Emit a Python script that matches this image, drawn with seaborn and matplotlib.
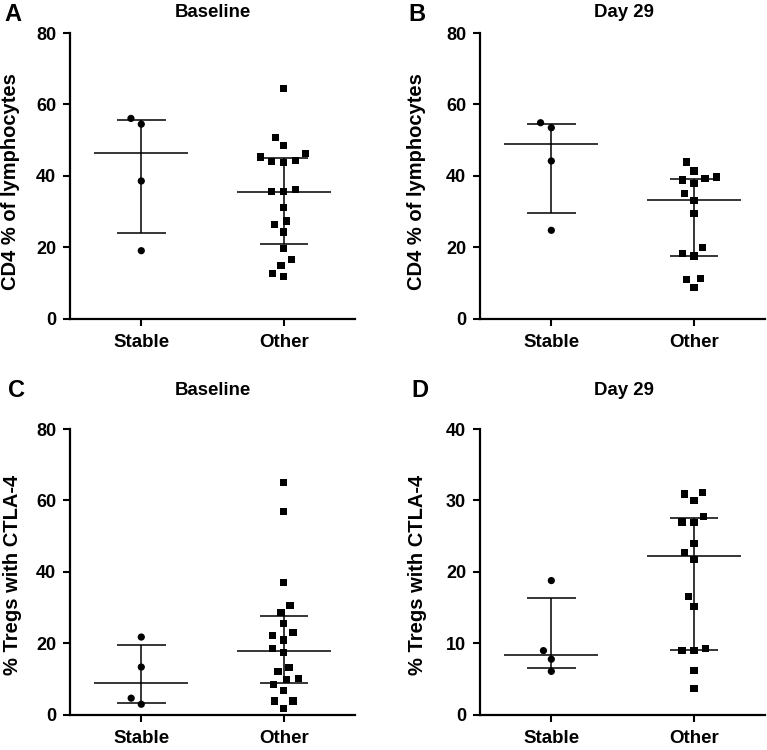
import numpy as np
import pandas as pd
import matplotlib
matplotlib.use("Agg")
import matplotlib.pyplot as plt
import seaborn as sns

groups = ["Stable", "Other"]

# CD4 % of lymphocytes
cd4_base_stable = [54.5, 56.1, 38.6, 19.1]
cd4_base_other = [64.4, 50.7, 48.5, 46.3, 45.3, 44.1, 43.8, 44.4, 36.2, 35.6,
                  35.6, 31.2, 27.4, 26.4, 24.3, 19.7, 16.7, 15.0, 12.8, 11.9]
cd4_d29_stable = [53.5, 54.9, 44.2, 24.8]
cd4_d29_other = [43.9, 41.4, 39.2, 38.0, 38.9, 39.7, 35.2, 33.2, 29.6, 18.4,
                 19.9, 17.6, 11.4, 11.1, 8.7]

# % Tregs with CTLA-4
ctla_base_stable = [21.8, 13.4, 4.7, 3.0]
ctla_base_other = [65.1, 57.0, 37.1, 30.7, 28.6, 25.5, 23.0, 22.2, 21.0, 18.5,
                   17.4, 13.3, 12.1, 9.9, 10.2, 8.5, 6.8, 3.9, 3.9, 1.9]
ctla_d29_stable = [18.8, 9.0, 7.8, 6.1]
ctla_d29_other = [30.9, 31.1, 30.0, 27.8, 26.9, 27.0, 24.0, 22.7, 21.8, 16.6,
                  15.2, 9.3, 9.0, 9.0, 6.2, 3.7]

sns.set_style("ticks")
plt.rcParams["font.family"] = ["Liberation Sans", "DejaVu Sans"]
plt.rcParams["font.weight"] = "bold"
plt.rcParams["text.color"] = "black"
plt.rcParams["axes.labelcolor"] = "black"
plt.rcParams["xtick.color"] = "black"
plt.rcParams["ytick.color"] = "black"

fig = plt.figure(figsize=(7.67, 7.5), dpi=100)


def panel(rect, stable, other, ymax, ystep, ylabel, lab_pos):
    ax = fig.add_axes(rect)
    df = pd.DataFrame({"group": ["Stable"] * len(stable) + ["Other"] * len(other),
                       "value": stable + other})
    for g, m in zip(groups, ["o", "s"]):
        sns.swarmplot(data=df[df["group"] == g], x="group", y="value", order=groups,
                      marker=m, size=5.2, color="black", linewidth=3.0, ax=ax, zorder=3)
    # keep the swarm spacing but hide the marker edges
    for c in ax.collections:
        c.set_edgecolor("none")

    # median with interquartile range
    for i, vals in enumerate([stable, other]):
        q1, med, q3 = np.percentile(vals, [25, 50, 75], method="weibull")
        ax.hlines(med, i - 0.33, i + 0.33, color="black", lw=1.1, zorder=2)
        ax.hlines([q1, q3], i - 0.17, i + 0.17, color="black", lw=1.1, zorder=2)
        ax.vlines(i, q1, q3, color="black", lw=1.1, zorder=2)

    ax.set_xlim(-0.5, 1.5)
    ax.set_ylim(0, ymax)
    ax.set_yticks(np.arange(0, ymax + 1, ystep))
    ax.set_xlabel("")
    ax.set_ylabel(ylabel, fontsize=14.5, fontweight="bold", color="black")
    ax.yaxis.set_label_coords(*lab_pos)
    sns.despine(ax=ax)
    for s in ["left", "bottom"]:
        ax.spines[s].set_linewidth(1.6)
        ax.spines[s].set_color("black")
    ax.tick_params(axis="both", length=5, width=1.5, color="black",
                   labelcolor="black", direction="out")
    ax.tick_params(axis="y", labelsize=13, pad=5)
    ax.tick_params(axis="x", labelsize=13.5, pad=6)
    for t in ax.get_xticklabels() + ax.get_yticklabels():
        t.set_fontweight("bold")
    return ax


panel([0.0913, 0.5747, 0.3716, 0.3813], cd4_base_stable, cd4_base_other, 80, 20,
      "CD4 % of lymphocytes", (-0.176, 0.48))
panel([0.6258, 0.5747, 0.372, 0.3813], cd4_d29_stable, cd4_d29_other, 80, 20,
      "CD4 % of lymphocytes", (-0.19, 0.48))
panel([0.0913, 0.0467, 0.3716, 0.3813], ctla_base_stable, ctla_base_other, 80, 20,
      "% Tregs with CTLA-4", (-0.17, 0.49))
panel([0.6258, 0.0467, 0.372, 0.3813], ctla_d29_stable, ctla_d29_other, 40, 10,
      "% Tregs with CTLA-4", (-0.186, 0.49))

# titles and panel letters
for x, y, s in [(0.2777, 0.983, "Baseline"), (0.8136, 0.983, "Day 29"),
                (0.2777, 0.479, "Baseline"), (0.8136, 0.479, "Day 29")]:
    fig.text(x, y, s, ha="center", va="center", fontsize=13.4, fontweight="bold")
for x, y, s in [(0.006, 0.981, "A"), (0.533, 0.981, "B"),
                (0.010, 0.479, "C"), (0.536, 0.479, "D")]:
    fig.text(x, y, s, ha="left", va="center", fontsize=17, fontweight="bold")

fig.savefig("out.png", dpi=100)
